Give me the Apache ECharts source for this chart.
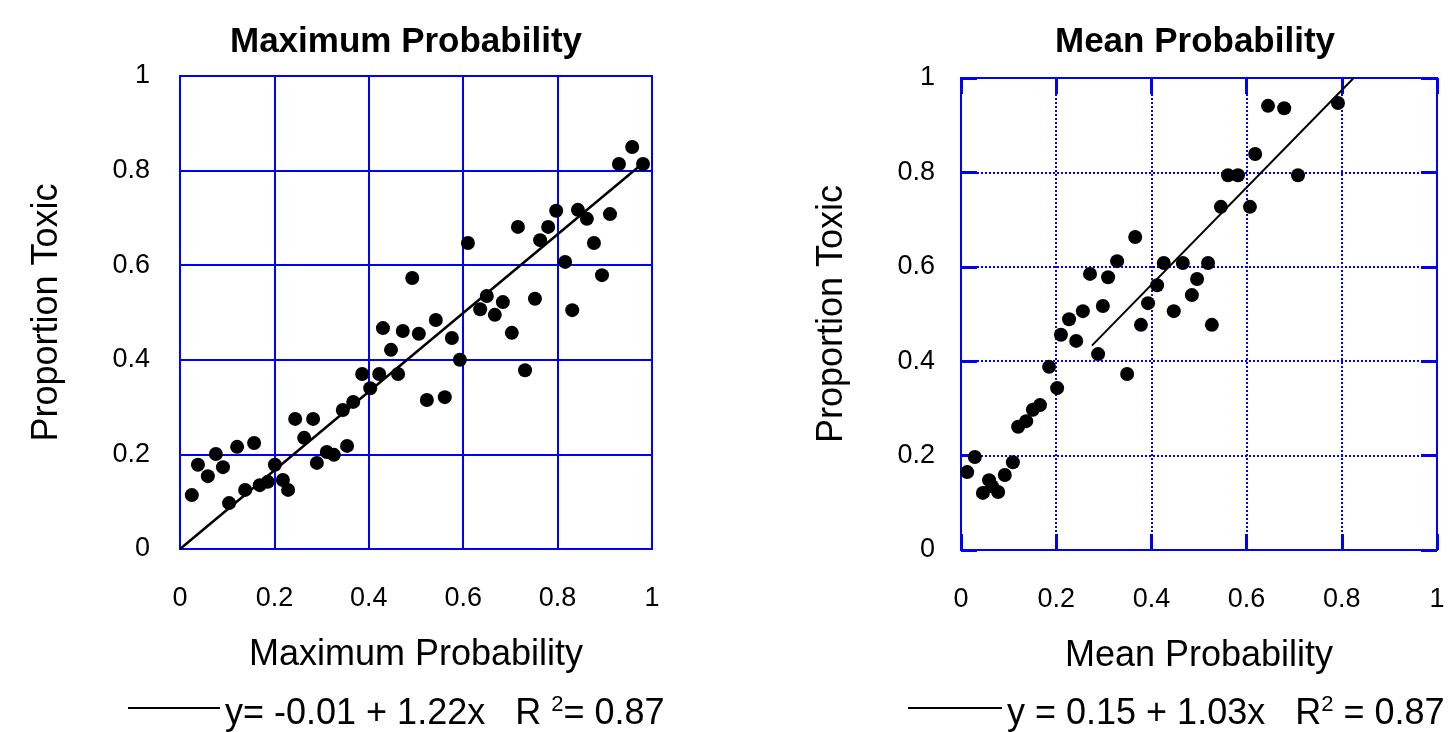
<!DOCTYPE html>
<html>
<head>
<meta charset="utf-8">
<script src="https://cdn.jsdelivr.net/npm/echarts@6/dist/echarts.min.js"></script>
<style>html,body{margin:0;padding:0;background:#fff;}#c{width:1449px;height:732px;}</style>
</head>
<body>
<div id="c"></div>
<script>
// ---- data ----
const tickLabels = ['0', '0.2', '0.4', '0.6', '0.8', '1'];

const maxX = [0.025,0.038,0.059,0.076,0.091,0.104,0.121,0.138,0.157,0.169,
  0.186,0.201,0.218,0.229,0.244,0.282,0.263,0.290,0.311,0.326,
  0.354,0.345,0.367,0.386,0.403,0.422,0.462,0.430,0.447,0.472,
  0.506,0.523,0.561,0.492,0.542,0.576,0.593,0.610,0.636,0.650,
  0.667,0.684,0.703,0.731,0.752,0.716,0.763,0.780,0.797,0.816,
  0.831,0.843,0.862,0.877,0.894,0.911,0.930,0.958,0.981];
const maxY = [0.114,0.178,0.154,0.201,0.173,0.097,0.216,0.125,0.224,0.135,
  0.142,0.178,0.146,0.125,0.275,0.275,0.235,0.182,0.205,0.199,
  0.218,0.294,0.311,0.370,0.340,0.370,0.370,0.467,0.421,0.461,
  0.455,0.315,0.321,0.573,0.484,0.446,0.400,0.647,0.507,0.535,
  0.495,0.522,0.457,0.378,0.529,0.681,0.653,0.681,0.715,0.607,
  0.505,0.717,0.698,0.647,0.579,0.708,0.814,0.850,0.814];

const meanX = [0.792,0.645,0.679,0.618,0.561,0.582,0.708,0.546,0.607,0.366,
  0.328,0.271,0.309,0.426,0.466,0.519,0.412,0.496,0.485,0.393,
  0.298,0.447,0.256,0.227,0.378,0.527,0.210,0.242,0.288,0.349,
  0.185,0.202,0.166,0.151,0.137,0.120,0.029,0.013,0.109,0.092,
  0.059,0.046,0.078,0.065];
const meanY = [0.947,0.941,0.936,0.839,0.794,0.794,0.794,0.727,0.727,0.663,
  0.612,0.585,0.578,0.608,0.608,0.608,0.561,0.574,0.540,0.523,
  0.517,0.506,0.506,0.489,0.477,0.477,0.456,0.443,0.415,0.373,
  0.388,0.343,0.307,0.297,0.273,0.261,0.197,0.165,0.186,0.159,
  0.148,0.121,0.123,0.135];

const maxFitX = [0, 0.98];
const maxFitY = [0, 0.815];
const meanFitX = [0.275, 0.825];
const meanFitY = [0.433, 1.0];

// ---- chart ----
const FONT = "'Liberation Sans', Arial, sans-serif";
const BLUE = '#0000ff';
const zip = (a, b) => a.map((v, i) => [v, b[i]]);
const fmt = v => tickLabels[Math.round(v / 0.2)];

const chart = echarts.init(document.getElementById('c'), null, {renderer: 'canvas'});

const baseLabel = {fontSize: 27, color: '#000', fontFamily: FONT, formatter: fmt};
const richText = {
  a: {fontSize: 36, fontFamily: FONT, color: '#000', lineHeight: 44, padding: [12, 0, 0, 0]},
  b: {fontSize: 22, fontFamily: FONT, color: '#000', lineHeight: 10, padding: [8, 0, 0, 0], verticalAlign: 'top'}
};
const innerTick = {show: true, inside: true, length: 16, lineStyle: {color: BLUE, width: 3}};

const option = {
  animation: false,
  backgroundColor: '#fff',
  graphic: [
    {type: 'text', x: 406, y: 42, style: {text: 'Maximum Probability', align: 'center', verticalAlign: 'middle',
      fontSize: 35, fontWeight: 'bold', fontFamily: FONT, fill: '#000'}},
    {type: 'text', x: 1195, y: 42, style: {text: 'Mean Probability', align: 'center', verticalAlign: 'middle',
      fontSize: 35, fontWeight: 'bold', fontFamily: FONT, fill: '#000'}}
  ],
  legend: [
    {
      data: [{name: 'maxFit', icon: 'rect'}], left: 123, top: 679, itemWidth: 92, itemHeight: 2, padding: 5,
      itemGap: 10, selectedMode: false,
      formatter: () => '{a|y= -0.01 + 1.22x   R }{b|2}{a|= 0.87}',
      textStyle: {rich: richText}
    },
    {
      data: [{name: 'meanFit', icon: 'rect'}], left: 903, top: 679, itemWidth: 94, itemHeight: 2, padding: 5,
      selectedMode: false,
      formatter: () => '{a|y = 0.15 + 1.03x   R}{b|2}{a| = 0.87}',
      textStyle: {rich: richText}
    }
  ],
  grid: [
    {left: 180, top: 76, width: 472, height: 473, show: true, borderColor: BLUE, borderWidth: 2, backgroundColor: 'transparent'},
    {left: 961, top: 78, width: 476, height: 472, show: true, borderColor: BLUE, borderWidth: 2, backgroundColor: 'transparent'}
  ],
  xAxis: [
    {gridIndex: 0, type: 'value', min: 0, max: 1, interval: 0.2,
      axisLine: {show: false, onZero: false}, axisTick: {show: false},
      splitLine: {show: true, lineStyle: {color: BLUE, width: 2}},
      axisLabel: Object.assign({margin: 36}, baseLabel),
      name: 'Maximum Probability', nameLocation: 'middle', nameGap: 88,
      nameTextStyle: {fontSize: 36, color: '#000', fontFamily: FONT}},
    {gridIndex: 1, type: 'value', min: 0, max: 1, interval: 0.2,
      axisLine: {show: false, onZero: false},
      axisTick: innerTick,
      splitLine: {show: true, lineStyle: {color: BLUE, width: 2, type: 'dotted'}},
      axisLabel: Object.assign({margin: 36}, baseLabel),
      name: 'Mean Probability', nameLocation: 'middle', nameGap: 88,
      nameTextStyle: {fontSize: 36, color: '#000', fontFamily: FONT}},
    {gridIndex: 1, type: 'value', position: 'top', min: 0, max: 1, interval: 0.2,
      axisLine: {show: false, onZero: false},
      axisTick: innerTick,
      splitLine: {show: false}, axisLabel: {show: false}}
  ],
  yAxis: [
    {gridIndex: 0, type: 'value', min: 0, max: 1, interval: 0.2,
      axisLine: {show: false, onZero: false}, axisTick: {show: false},
      splitLine: {show: true, lineStyle: {color: BLUE, width: 2}},
      axisLabel: Object.assign({margin: 30}, baseLabel),
      name: 'Proportion Toxic', nameLocation: 'middle', nameGap: 115,
      nameTextStyle: {fontSize: 36, color: '#000', fontFamily: FONT}},
    {gridIndex: 1, type: 'value', min: 0, max: 1, interval: 0.2,
      axisLine: {show: false, onZero: false},
      axisTick: innerTick,
      splitLine: {show: true, lineStyle: {color: BLUE, width: 2, type: 'dotted'}},
      axisLabel: Object.assign({margin: 26}, baseLabel),
      name: 'Proportion Toxic', nameLocation: 'middle', nameGap: 111,
      nameTextStyle: {fontSize: 36, color: '#000', fontFamily: FONT}},
    {gridIndex: 1, type: 'value', position: 'right', min: 0, max: 1, interval: 0.2,
      axisLine: {show: false, onZero: false},
      axisTick: innerTick,
      splitLine: {show: false}, axisLabel: {show: false}}
  ],
  series: [
    {type: 'scatter', name: 'maxPts', xAxisIndex: 0, yAxisIndex: 0, data: zip(maxX, maxY),
      symbol: 'circle', symbolSize: 14, itemStyle: {color: '#000', opacity: 1}},
    {type: 'line', name: 'maxFit', xAxisIndex: 0, yAxisIndex: 0, data: zip(maxFitX, maxFitY),
      symbol: 'none', lineStyle: {color: '#000', width: 2.5}, itemStyle: {color: '#000'}},
    {type: 'scatter', name: 'meanPts', xAxisIndex: 1, yAxisIndex: 1, data: zip(meanX, meanY),
      symbol: 'circle', symbolSize: 14, itemStyle: {color: '#000', opacity: 1}},
    {type: 'line', name: 'meanFit', xAxisIndex: 1, yAxisIndex: 1, data: zip(meanFitX, meanFitY),
      symbol: 'none', lineStyle: {color: '#000', width: 2}, itemStyle: {color: '#000'}}
  ]
};
chart.setOption(option);
</script>
</body>
</html>
